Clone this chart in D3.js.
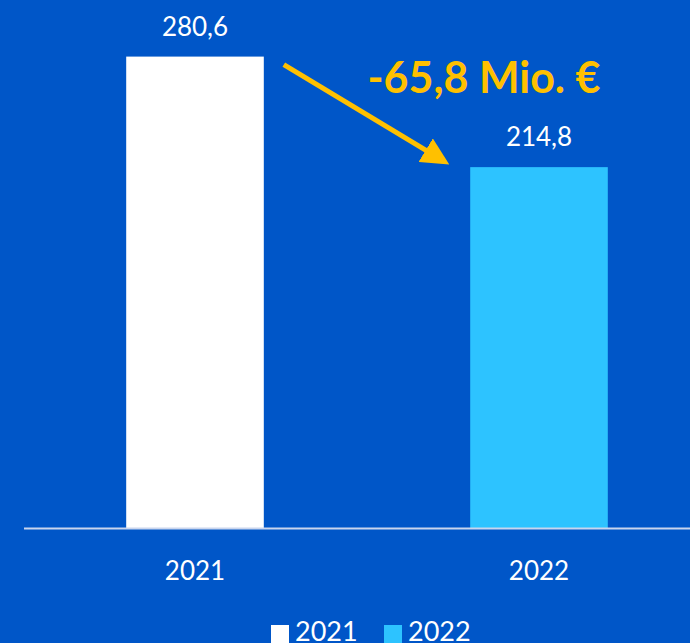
<!DOCTYPE html>
<html>
<head>
<meta charset="utf-8">
<script src="https://cdn.jsdelivr.net/npm/d3@7"></script>
<style>
  html, body { margin: 0; padding: 0; background: #0056c8; }
  svg { display: block; }
</style>
</head>
<body>
<div id="chart"></div>
<script>
var years = ['2021', '2022'];
var values = [280.6, 214.8];
var valueLabels = ['280,6', '214,8'];
var barColors = ['#ffffff', '#2dc3ff'];
var deltaLabel = '-65,8 Mio. €';

var width = 690, height = 643;
var baseY = 528;

var svg = d3.select('#chart').append('svg')
  .attr('width', width)
  .attr('height', height);

svg.append('rect')
  .attr('width', width)
  .attr('height', height)
  .attr('fill', '#0056c8');

var x = d3.scaleBand()
  .domain(years)
  .range([23, 711])
  .paddingInner(0.6)
  .paddingOuter(0.3);

var y = d3.scaleLinear()
  .domain([0, 300])
  .range([baseY, 24]);

var font = 'Lato, "Open Sans", sans-serif';

// bars
svg.selectAll('rect.bar').data(values)
  .enter()
    .append('rect')
      .attr('class', 'bar')
      .attr('x', function(d, i) { return x(years[i]); })
      .attr('y', function(d) { return y(d); })
      .attr('width', x.bandwidth())
      .attr('height', function(d) { return baseY - y(d); })
      .attr('fill', function(d, i) { return barColors[i]; });

// value labels
svg.selectAll('text.val').data(values)
  .enter()
    .append('text')
      .attr('class', 'val')
      .attr('x', function(d, i) { return x(years[i]) + x.bandwidth() / 2; })
      .attr('y', function(d) { return y(d) - 21; })
      .attr('text-anchor', 'middle')
      .attr('fill', '#ffffff')
      .style('font-family', font)
      .style('font-size', '26px')
      .text(function(d, i) { return valueLabels[i]; });

// baseline
svg.append('line')
  .attr('x1', 24)
  .attr('x2', width)
  .attr('y1', baseY + 0.5)
  .attr('y2', baseY + 0.5)
  .attr('stroke', '#c9d5ee')
  .attr('stroke-width', 2);

// x axis labels
var xAxis = d3.axisBottom(x).tickSize(0).tickPadding(0);
var gx = svg.append('g')
  .attr('transform', 'translate(0,' + baseY + ')')
  .call(xAxis);
gx.select('.domain').remove();
gx.selectAll('text')
  .attr('y', 52)
  .attr('dy', 0)
  .attr('fill', '#ffffff')
  .style('font-family', font)
  .style('font-size', '26px');

// arrow
var defs = svg.append('defs');
defs.append('marker')
  .attr('id', 'arrowhead')
  .attr('viewBox', '0 0 10 10')
  .attr('refX', 7)
  .attr('refY', 5)
  .attr('markerWidth', 5.5)
  .attr('markerHeight', 5.5)
  .attr('markerUnits', 'strokeWidth')
  .attr('orient', 'auto')
  .append('path')
    .attr('d', 'M0,0 L10,5 L0,10 Z')
    .attr('fill', '#ffc000');

var x0 = x(years[0]) + x.bandwidth() + 20;
var x1 = x(years[1]) - 28;
svg.append('line')
  .attr('x1', x0)
  .attr('y1', y(values[0]) + 8)
  .attr('x2', x1)
  .attr('y2', y(values[1]) - 7)
  .attr('stroke', '#ffc000')
  .attr('stroke-width', 5)
  .attr('marker-end', 'url(#arrowhead)');

svg.append('text')
  .attr('x', 484)
  .attr('y', 93)
  .attr('text-anchor', 'middle')
  .attr('fill', '#ffc000')
  .style('font-family', font)
  .style('font-weight', 'bold')
  .style('font-size', '43px')
  .text(deltaLabel);

// legend
var legend = svg.selectAll('g.legend').data(years)
  .enter()
    .append('g')
      .attr('class', 'legend')
      .attr('transform', function(d, i) { return 'translate(' + (271 + i * 113) + ',0)'; });
legend.append('rect')
  .attr('x', 0)
  .attr('y', 625)
  .attr('width', 18)
  .attr('height', 18)
  .attr('fill', function(d, i) { return barColors[i]; });
legend.append('text')
  .attr('x', 24)
  .attr('y', 641)
  .attr('fill', '#ffffff')
  .style('font-family', font)
  .style('font-size', '27px')
  .text(function(d) { return d; });
</script>
</body>
</html>
